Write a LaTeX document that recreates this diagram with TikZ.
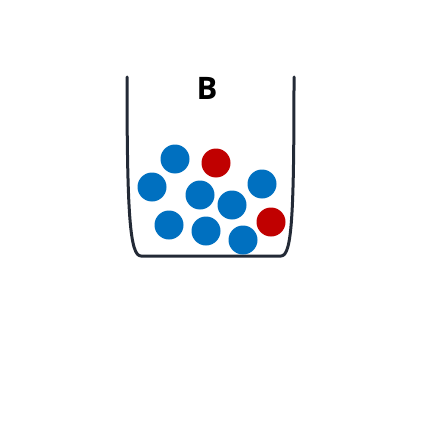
\documentclass[tikz,border=0pt]{standalone}
\usepackage{fontspec}
\setmainfont{Open Sans}
\usepackage{tikz}
\usepackage{xcolor}
\definecolor{beaker}{HTML}{232A36}
\definecolor{ballblue}{HTML}{0070C0}
\definecolor{ballred}{HTML}{C00000}

\begin{document}
\begin{tikzpicture}[
  x=1pt, y=-1pt,
  wall/.style={draw=beaker, line width=3pt, line cap=round, line join=round},
  ball/.style={circle, inner sep=0pt, minimum size=29pt, fill=#1},
  tag/.style={font=\fontsize{31}{31}\selectfont\bfseries, text=black}
]
  \useasboundingbox (0,0) rectangle (435,422);

  % container
  \draw[wall] (127,77) .. controls (127,215) and (130,256) .. (141,256)
    -- (281,256) .. controls (292,256) and (294,215) .. (294,77);
  \node[tag] (label) at (207,88) {B};

  % balls
  \node[ball=ballblue] (b1) at (175,159) {};
  \node[ball=ballred]  (r1) at (216,163) {};
  \node[ball=ballblue] (b2) at (152,187) {};
  \node[ball=ballblue] (b3) at (200,195) {};
  \node[ball=ballblue] (b4) at (262,184) {};
  \node[ball=ballblue] (b5) at (232,205) {};
  \node[ball=ballblue] (b6) at (169,225) {};
  \node[ball=ballblue] (b7) at (206,231) {};
  \node[ball=ballblue] (b8) at (243,240) {};
  \node[ball=ballred]  (r2) at (271,222) {};
\end{tikzpicture}
\end{document}
